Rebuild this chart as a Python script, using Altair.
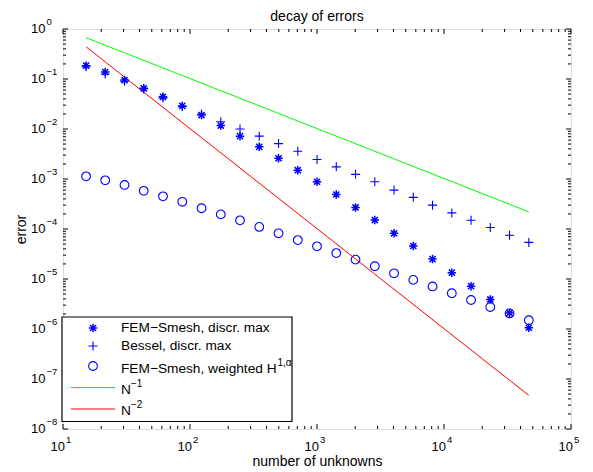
import altair as alt
import pandas as pd

# ---------------- data ----------------
N = [15.2, 21.5, 30.5, 43.2, 61.3, 86.9, 123.2, 174.7, 247.6, 351, 498, 706,
     1000, 1418, 2011, 2851, 4042, 5730, 8125, 11520, 16330, 23150, 32830, 46540]
fem_max = [0.185, 0.138, 0.095, 0.065, 0.044, 0.029, 0.019, 0.0117, 0.0072, 0.0044,
           0.0026, 0.0015, 0.00088, 0.00049, 0.00027, 0.000151, 8.2e-5, 4.57e-5,
           2.5e-5, 1.34e-5, 7.2e-6, 3.9e-6, 2.09e-6, 1.06e-6]
bessel_max = [0.176, 0.126, 0.090, 0.063, 0.042, 0.028, 0.020, 0.014, 0.010, 0.0072,
              0.0051, 0.0036, 0.00245, 0.00175, 0.00124, 0.00088, 0.00060, 0.00043,
              0.00030, 0.00021, 0.00015, 0.000107, 7.5e-5, 5.4e-5]
fem_h1 = [0.00113, 0.00094, 0.00076, 0.00058, 0.00045, 0.00035, 0.00026, 0.000196,
          0.000149, 0.00011, 8.2e-5, 6.0e-5, 4.5e-5, 3.3e-5, 2.44e-5, 1.8e-5, 1.3e-5,
          9.6e-6, 7.1e-6, 5.2e-6, 3.8e-6, 2.75e-6, 2.05e-6, 1.5e-6]
ref_N = [15.2, 46540]
ref_n1 = [0.67, 2.2e-4]
ref_n2 = [0.44, 4.7e-8]

x_major = [1e1, 1e2, 1e3, 1e4, 1e5]
x_exp = ["1", "2", "3", "4", "5"]
y_major = [1e0, 1e-1, 1e-2, 1e-3, 1e-4, 1e-5, 1e-6, 1e-7, 1e-8]
y_exp = ["0", "−1", "−2", "−3", "−4", "−5", "−6", "−7", "−8"]

legend_labels = ["FEM−Smesh, discr. max", "Bessel, discr. max",
                 "FEM−Smesh, weighted H", "N", "N"]
legend_sups = ["", "", "1,α", "−1", "−2"]

TITLE = "decay of errors"
XTITLE = "number of unknowns"
YTITLE = "error"

# ---------------- styling ----------------
FONT = "Liberation Sans"
W, H = 508, 400
BLUE, GREEN, RED = "#0000ff", "#00ff00", "#ff0000"
STAR = "M0,-1L0,1M-1,0L1,0M-0.72,-0.72L0.72,0.72M-0.72,0.72L0.72,-0.72"
PLUS = "M0,-1L0,1M-1,0L1,0"

xs = alt.Scale(type="log", domain=[10, 1e5], nice=False)
ys = alt.Scale(type="log", domain=[1e-8, 1], nice=False)

xaxis = alt.Axis(title=XTITLE, labels=False, ticks=False, domain=False, grid=False,
                 titlePadding=25, titleFont=FONT, titleFontSize=14,
                 titleFontWeight="normal", titleColor="black")
yaxis = alt.Axis(title=YTITLE, labels=False, ticks=False, domain=False, grid=False,
                 titlePadding=35, titleFont=FONT, titleFontSize=14,
                 titleFontWeight="normal", titleColor="black")

pts = pd.DataFrame({"N": N, "fem_max": fem_max, "bessel_max": bessel_max, "fem_h1": fem_h1})
refs = pd.DataFrame({"N": ref_N, "n1": ref_n1, "n2": ref_n2})


def X(field):
    return alt.X(field, type="quantitative", scale=xs, axis=xaxis)


def Y(field):
    return alt.Y(field, type="quantitative", scale=ys, axis=yaxis)


layers = []
layers.append(alt.Chart(refs).mark_line(color=GREEN, strokeWidth=1).encode(x=X("N"), y=Y("n1")))
layers.append(alt.Chart(refs).mark_line(color=RED, strokeWidth=1).encode(x=X("N"), y=Y("n2")))
layers.append(alt.Chart(pts).mark_point(shape=STAR, size=72, filled=False, color=BLUE,
                                        strokeWidth=1.5, opacity=1).encode(x=X("N"), y=Y("fem_max")))
layers.append(alt.Chart(pts).mark_point(shape=PLUS, size=81, filled=False, color=BLUE,
                                        strokeWidth=1.1, opacity=1).encode(x=X("N"), y=Y("bessel_max")))
layers.append(alt.Chart(pts).mark_point(shape="circle", size=76, filled=False, color=BLUE,
                                        strokeWidth=1.1, opacity=1).encode(x=X("N"), y=Y("fem_h1")))

# ---- inward ticks on all four sides ----
x_minor = [m * d for d in [1e1, 1e2, 1e3, 1e4] for m in range(2, 10)]
y_minor = [m * d for d in [1e-8, 1e-7, 1e-6, 1e-5, 1e-4, 1e-3, 1e-2, 1e-1] for m in range(2, 10)]
for vals, ln in [(x_major, 5), (x_minor, 3)]:
    df = pd.DataFrame({"v": vals})
    for y0, y1 in [(H, H - ln), (0, ln)]:
        layers.append(alt.Chart(df).mark_rule(color="black", strokeWidth=1).encode(
            x=X("v"), y=alt.value(y0), y2=alt.value(y1)))
for vals, ln in [(y_major, 5), (y_minor, 3)]:
    df = pd.DataFrame({"v": vals})
    for x0, x1 in [(0, ln), (W, W - ln)]:
        layers.append(alt.Chart(df).mark_rule(color="black", strokeWidth=1).encode(
            y=Y("v"), x=alt.value(x0), x2=alt.value(x1)))

# ---- tick labels: "10" with a raised exponent ----
xl = pd.DataFrame({"v": x_major, "e": x_exp})
yl = pd.DataFrame({"v": y_major, "e": y_exp})
layers.append(alt.Chart(xl).mark_text(font=FONT, fontSize=13, align="right", baseline="middle",
                                      dx=2, color="black").encode(
    x=X("v"), y=alt.value(H + 17.5), text=alt.value("10")))
layers.append(alt.Chart(xl).mark_text(font=FONT, fontSize=9.5, align="left", baseline="middle",
                                      dx=3, color="black").encode(
    x=X("v"), y=alt.value(H + 10.5), text="e:N"))
layers.append(alt.Chart(yl).mark_text(font=FONT, fontSize=13, align="right", baseline="middle",
                                      color="black").encode(
    y=Y("v"), x=alt.value(-17.5), text=alt.value("10")))
layers.append(alt.Chart(yl).mark_text(font=FONT, fontSize=9.5, align="left", baseline="middle",
                                      dy=-7.5, color="black").encode(
    y=Y("v"), x=alt.value(-16.5), text="e:N"))

# ---- chart title, centred over the plot ----
one = pd.DataFrame({"a": [0]})
layers.append(alt.Chart(one).mark_text(font=FONT, fontSize=14, align="center", baseline="middle",
                                       color="black").encode(
    x=alt.value(W / 2), y=alt.value(-12.5), text=alt.value(TITLE)))

# ---- legend box (inside the plot, lower left) ----
layers.append(alt.Chart(one).mark_rect(fill="white", stroke="black", strokeWidth=1.2).encode(
    x=alt.value(-1), x2=alt.value(229), y=alt.value(288), y2=alt.value(392.5)))
sym_rows = [(STAR, 72, 1.5, 299), (PLUS, 81, 1.1, 317), ("circle", 76, 1.1, 337)]
for shp, sz, sw, yy in sym_rows:
    layers.append(alt.Chart(one).mark_point(shape=shp, size=sz, filled=False, color=BLUE,
                                            strokeWidth=sw, opacity=1).encode(
        x=alt.value(30), y=alt.value(yy)))
for col, yy in [(GREEN, 358.5), (RED, 380)]:
    layers.append(alt.Chart(one).mark_rule(color=col, strokeWidth=1).encode(
        x=alt.value(8), x2=alt.value(52), y=alt.value(yy)))
text_y = [299, 317, 340, 361, 382]
sup_x = [0, 0, 214.5, 68, 68]
for lab, sup, ty, sx in zip(legend_labels, legend_sups, text_y, sup_x):
    layers.append(alt.Chart(one).mark_text(font=FONT, fontSize=13.7, align="left",
                                           baseline="middle", color="black").encode(
        x=alt.value(58), y=alt.value(ty), text=alt.value(lab)))
    if sup:
        layers.append(alt.Chart(one).mark_text(font=FONT, fontSize=10, align="left",
                                               baseline="middle", color="black").encode(
            x=alt.value(sx), y=alt.value(ty - 6.5), text=alt.value(sup)))

chart = alt.layer(*layers).properties(
    width=W, height=H,
    autosize=alt.AutoSizeParams(type="none"),
    padding={"left": 55, "top": 21, "right": 14, "bottom": 38},
).configure_view(stroke="black", strokeWidth=1.2).configure(background="white")

chart.save("out.html", embed_options={"renderer": "svg", "actions": False})
